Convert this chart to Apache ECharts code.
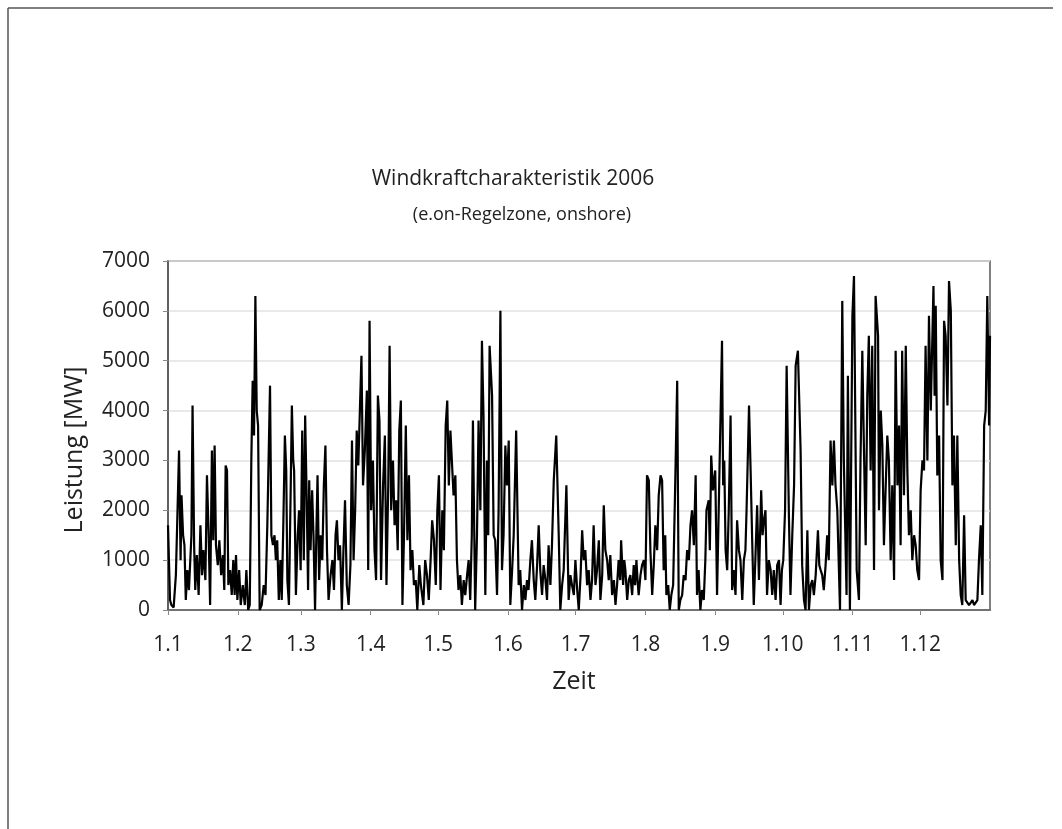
<!DOCTYPE html>
<html>
<head>
<meta charset="utf-8">
<script src="https://cdn.jsdelivr.net/npm/echarts@6/dist/echarts.min.js"></script>
<style>
  html, body { margin: 0; padding: 0; background: #fff; }
  #chart { width: 1062px; height: 829px; }
</style>
</head>
<body>
<div id="chart"></div>
<script>
// Monatsanfänge (Tag im Jahr) und Beschriftung
var monthStarts = [0, 31, 59, 90, 120, 151, 181, 212, 243, 273, 304, 334];
var monthLabels = ["1.1", "1.2", "1.3", "1.4", "1.5", "1.6", "1.7", "1.8", "1.9", "1.10", "1.11", "1.12"];
var yTicks = [0, 1000, 2000, 3000, 4000, 5000, 6000, 7000];

// Zeit (Tage seit 1.1.) und Leistung [MW]
var zeitTage = [
  0, 0.3, 0.9, 1.5, 2.5, 3.5, 4.9, 5.6, 6.0, 6.7, 7.3, 7.9, 8.6, 9.3, 10.4, 10.9, 11.6, 12.1, 12.8, 13.6,
  14.4, 15.1, 15.7, 16.6, 17.3, 18.0, 18.7, 19.5, 20.1, 20.7, 21.3, 22.1, 22.8, 23.6, 24.4, 25.0, 25.6, 26.2, 26.8, 27.6,
  28.3, 29.0, 29.6, 30.2, 30.8, 31.6, 32.3, 33.2, 34.1, 34.8, 35.6, 36.3, 37.0, 37.6, 38.2, 38.8, 39.4, 40.0, 40.7, 41.6,
  42.5, 43.3, 44.1, 45.3, 45.9, 46.6, 47.3, 47.9, 48.5, 49.2, 49.9, 50.5, 51.2, 51.9, 52.5, 53.0, 53.7, 54.5, 55.0, 55.6,
  56.0, 56.8, 57.6, 58.2, 58.9, 59.6, 60.3, 60.9, 61.6, 62.2, 62.7, 63.3, 64.0, 64.6, 65.3, 65.9, 66.4, 67.1, 67.8, 68.5,
  69.2, 69.9, 70.6, 71.3, 72.2, 73.0, 73.7, 74.4, 75.0, 75.7, 76.4, 77.2, 77.9, 78.6, 79.4, 80.2, 81.0, 81.7, 82.4, 83.1,
  83.8, 84.5, 85.2, 85.9, 86.6, 87.4, 88.3, 88.9, 89.5, 90.2, 91.0, 91.7, 92.4, 93.2, 93.9, 94.6, 95.5, 96.3, 97.0, 97.8,
  98.4, 99.1, 99.9, 100.6, 101.3, 102.0, 102.7, 103.4, 104.1, 104.8, 105.6, 106.3, 107.0, 107.7, 108.5, 109.2, 110.0, 110.7, 111.6, 112.3,
  113.4, 114.2, 115.0, 115.8, 116.6, 117.3, 118.1, 118.9, 119.6, 120.3, 121.0, 121.8, 122.5, 123.3, 124.0, 124.7, 125.4, 126.1, 126.8, 127.6,
  128.3, 129.0, 129.8, 130.5, 131.3, 132.0, 132.8, 133.5, 134.2, 134.9, 135.4, 136.4, 137.2, 137.9, 138.7, 139.4, 140.1, 140.9, 141.6, 142.2,
  142.8, 143.9, 144.6, 145.3, 146.1, 146.8, 147.6, 148.3, 149.0, 149.8, 150.5, 151.3, 152.0, 152.8, 153.5, 154.6, 155.7, 156.4, 157.2, 158.0,
  158.7, 159.4, 160.1, 160.9, 161.6, 162.4, 163.1, 163.9, 164.6, 165.3, 166.1, 166.8, 167.6, 168.3, 169.0, 169.8, 170.5, 171.3, 172.4, 173.5,
  174.2, 175.0, 175.7, 176.9, 177.9, 178.7, 179.4, 180.2, 180.9, 181.7, 182.4, 183.2, 183.9, 184.6, 185.3, 186.1, 186.8, 187.6, 188.3, 189.0,
  189.8, 190.5, 191.3, 192.0, 192.8, 193.5, 194.2, 195.0, 195.7, 196.4, 197.2, 198.0, 198.7, 199.4, 200.1, 200.8, 201.2, 202.1, 202.6, 203.1,
  203.9, 204.6, 205.3, 206.1, 206.8, 207.4, 208.0, 208.5, 209.0, 209.8, 210.5, 211.3, 212.0, 212.7, 213.5, 214.2, 215.0, 215.7, 216.4, 217.2,
  217.9, 218.7, 219.4, 220.1, 220.8, 221.3, 222.1, 222.8, 223.5, 224.3, 225.3, 226.1, 226.8, 227.5, 228.3, 229.0, 229.8, 230.5, 231.3, 232.0,
  232.7, 233.5, 234.3, 234.9, 235.6, 236.4, 237.1, 237.9, 238.6, 239.1, 240.1, 240.6, 241.2, 242.0, 243.0, 243.8, 245.0, 246.0, 246.5, 247.0,
  247.6, 248.3, 249.0, 249.8, 250.5, 251.2, 252.0, 252.7, 253.5, 254.2, 255.0, 255.7, 256.4, 256.9, 258.0, 258.7, 259.4, 260.1, 260.8, 261.6,
  262.4, 263.4, 264.0, 264.6, 265.3, 266.0, 266.8, 267.6, 268.3, 269.0, 269.8, 270.5, 271.3, 272.0, 272.6, 273.2, 274.0, 274.7, 275.7, 276.4,
  277.2, 278.0, 278.7, 279.7, 280.9, 281.6, 282.4, 283.1, 283.9, 284.6, 285.4, 286.1, 286.8, 287.6, 288.6, 289.2, 289.8, 290.5, 291.2, 292.0,
  292.7, 293.4, 294.2, 295.0, 295.7, 296.4, 297.2, 298.4, 299.4, 300.1, 301.3, 301.9, 302.8, 303.9, 304.6, 305.8, 306.8, 307.5, 308.3, 309.0,
  309.8, 310.5, 311.2, 312.0, 312.7, 313.5, 314.2, 315.3, 315.7, 316.5, 317.2, 317.9, 318.7, 319.4, 320.1, 320.9, 321.6, 322.4, 323.1, 323.9,
  324.6, 325.3, 326.0, 326.8, 327.6, 328.3, 329.0, 329.8, 330.5, 331.3, 332.0, 332.7, 333.5, 334.2, 335.0, 335.7, 336.4, 337.2, 337.9, 338.7,
  339.9, 340.4, 340.9, 341.6, 342.4, 343.1, 343.9, 344.6, 345.3, 346.1, 346.8, 347.6, 348.3, 349.0, 349.8, 350.5, 351.3, 352.0, 352.7, 353.5,
  354.2, 355.0, 355.7, 356.4, 357.2, 357.9, 358.7, 359.4, 360.1, 360.9, 361.6, 362.4, 363.1, 363.8, 364.6, 365.0
];
var leistungMW = [
  1700, 1700, 200, 100, 50, 700, 3200, 1000, 2300, 1500, 1300, 200, 800, 400, 1500, 4100, 1300, 400, 1100, 300,
  1700, 700, 1200, 600, 2700, 1600, 100, 3200, 1400, 3300, 1300, 900, 1400, 700, 1100, 400, 2900, 2800, 500, 800,
  300, 1000, 300, 1100, 200, 800, 100, 500, 100, 800, 0, 100, 3000, 4600, 3500, 6300, 4000, 3700, 0, 100,
  500, 300, 1700, 4500, 1500, 1300, 1500, 1000, 1400, 200, 1000, 200, 1700, 3500, 2800, 600, 100, 2500, 4100, 3000,
  2800, 300, 1500, 2000, 800, 3600, 1000, 3900, 2200, 400, 2600, 1200, 2400, 1500, 0, 1600, 2700, 600, 1500, 1000,
  2500, 3300, 1200, 200, 700, 1000, 400, 1500, 1800, 1000, 1300, 0, 1200, 2200, 500, 100, 900, 3400, 1000, 2000,
  3600, 2900, 4000, 5100, 2500, 3200, 4400, 800, 5800, 2000, 3000, 1200, 600, 4300, 3800, 600, 2500, 3500, 500, 2500,
  5300, 2000, 3000, 1700, 2200, 1200, 3600, 4200, 100, 1500, 3700, 1400, 2700, 800, 1200, 500, 600, 0, 900, 500,
  100, 1000, 700, 200, 1000, 1800, 1400, 500, 2000, 2700, 400, 2000, 1200, 3700, 4200, 2500, 3600, 3600, 2300, 2700,
  1000, 400, 700, 100, 600, 300, 700, 1000, 200, 1500, 3800, 0, 1500, 3800, 2000, 5400, 3900, 300, 3000, 1500,
  5300, 4300, 1500, 1400, 300, 2000, 6000, 800, 1500, 3300, 2500, 3400, 100, 800, 1500, 3600, 500, 800, 0, 500,
  200, 600, 400, 1000, 1400, 600, 200, 900, 1700, 800, 300, 900, 600, 200, 1300, 500, 1300, 2600, 3500, 1500,
  0, 500, 800, 2500, 200, 700, 500, 300, 1000, 400, 0, 700, 1600, 1000, 1200, 500, 800, 200, 600, 1700,
  500, 800, 1400, 200, 700, 2100, 1200, 1000, 600, 1100, 300, 600, 100, 500, 1000, 600, 1400, 500, 1000, 800,
  200, 600, 700, 300, 900, 500, 1000, 600, 300, 700, 900, 1000, 600, 2700, 2600, 1200, 300, 900, 1700, 1200,
  2300, 2700, 2600, 800, 1500, 300, 500, 0, 300, 500, 2700, 4600, 0, 200, 300, 700, 600, 1200, 1000, 1700,
  2000, 1300, 2700, 300, 800, 0, 400, 200, 1000, 2000, 2200, 1200, 3100, 2400, 2800, 300, 3100, 5400, 2500, 3000,
  1200, 800, 2000, 3900, 400, 800, 300, 1800, 1200, 1000, 200, 1000, 1200, 2000, 4100, 2800, 1400, 100, 1000, 2100,
  600, 2400, 1500, 1800, 2000, 300, 1000, 800, 300, 800, 200, 900, 1000, 100, 800, 1000, 2000, 4900, 1900, 300,
  1500, 2500, 4900, 5200, 3200, 900, 200, 0, 1600, 0, 500, 600, 300, 700, 1600, 900, 800, 700, 400, 900,
  1500, 1000, 3400, 2500, 3400, 2500, 2000, 0, 6200, 3000, 300, 4700, 0, 5900, 6700, 800, 200, 3000, 5200, 3300,
  1300, 4300, 5500, 2800, 5300, 800, 6300, 5500, 2000, 4000, 3300, 1300, 2500, 3500, 3000, 1000, 2500, 600, 5200, 2500,
  3700, 1300, 5200, 2300, 5300, 2800, 1500, 2000, 1000, 1500, 1300, 800, 600, 2400, 3000, 2800, 5300, 3000, 5900, 4000,
  6500, 4300, 6100, 2700, 3500, 1000, 600, 5800, 5500, 4100, 6600, 6000, 2500, 3500, 1300, 3500, 1000, 300, 100, 1900,
  200, 200, 100, 100, 200, 100, 100, 200, 1000, 1700, 300, 3700, 4000, 6300, 3700, 5500
];

var chart = echarts.init(document.getElementById("chart"), null, { renderer: "canvas" });
var font = "'Open Sans', 'Noto Sans', sans-serif";

chart.setOption({
  animation: false,
  backgroundColor: "#fff",
  textStyle: { fontFamily: font },
  graphic: [
    // Rahmen um das Bild (oben, links)
    { type: "line", shape: { x1: 8, y1: 8, x2: 1053, y2: 8 }, style: { stroke: "#555", lineWidth: 1.5 } },
    { type: "line", shape: { x1: 8, y1: 8, x2: 8, y2: 829 }, style: { stroke: "#555", lineWidth: 1.5 } },
    {
      type: "text", x: 513, y: 179,
      style: { text: "Windkraftcharakteristik 2006", font: "21px " + font, fill: "#222", align: "center", verticalAlign: "middle" }
    },
    {
      type: "text", x: 522, y: 215,
      style: { text: "(e.on-Regelzone, onshore)", font: "18px " + font, fill: "#222", align: "center", verticalAlign: "middle" }
    },
    {
      type: "text", x: 75, y: 450, rotation: Math.PI / 2,
      style: { text: "Leistung [MW]", font: "25px " + font, fill: "#222", align: "center", verticalAlign: "middle" }
    },
    {
      type: "text", x: 574, y: 682,
      style: { text: "Zeit", font: "25px " + font, fill: "#222", align: "center", verticalAlign: "middle" }
    }
  ],
  grid: {
    left: 168, right: 72, top: 261, bottom: 219,
    show: true, borderColor: "#555", borderWidth: 1.5, backgroundColor: "transparent"
  },
  xAxis: {
    type: "value",
    min: 0,
    max: 365,
    axisLine: { show: true, onZero: false, lineStyle: { color: "#555", width: 1.5 } },
    axisTick: { show: true, customValues: monthStarts, length: 5, lineStyle: { color: "#888" } },
    axisLabel: {
      customValues: monthStarts,
      margin: 25,
      fontSize: 21,
      color: "#222",
      formatter: function (v) {
        return monthLabels[monthStarts.indexOf(v)];
      }
    },
    splitLine: { show: false }
  },
  yAxis: {
    type: "value",
    min: 0,
    max: 7000,
    interval: 1000,
    axisLine: { show: true, lineStyle: { color: "#555", width: 1.5 } },
    axisTick: { show: true, length: 5, lineStyle: { color: "#888" } },
    axisLabel: {
      margin: 18,
      fontSize: 21,
      color: "#222",
      formatter: function (v) {
        return yTicks.indexOf(v) >= 0 ? String(v) : "";
      }
    },
    splitLine: { show: true, lineStyle: { color: "#e2e2e2", width: 1.5 } }
  },
  series: [
    {
      name: "Leistung",
      type: "line",
      data: zeitTage.map(function (t, i) { return [t, leistungMW[i]]; }),
      showSymbol: false,
      sampling: null,
      lineStyle: { color: "#000", width: 2.2 },
      itemStyle: { color: "#000" }
    }
  ]
});
</script>
</body>
</html>
